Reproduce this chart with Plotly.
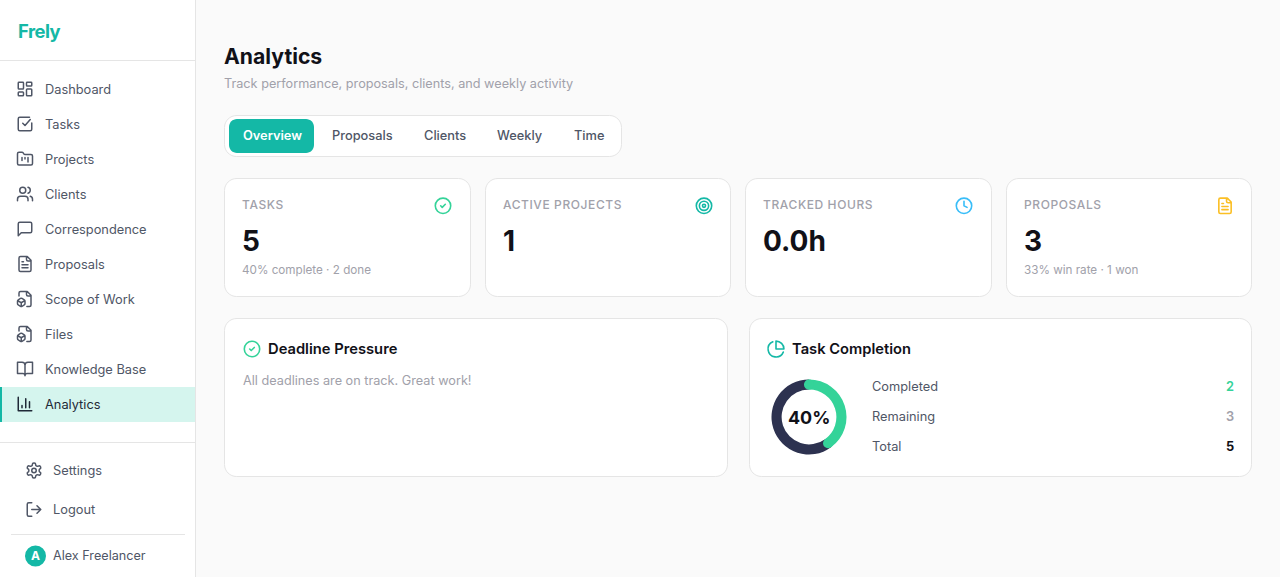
import math
import re
import json
import plotly.graph_objects as go

W, H = 1280, 577

# ---------- data ----------
brand = "Frely"
page_title = "Analytics"
page_subtitle = "Track performance, proposals, clients, and weekly activity"
nav_labels = ["Dashboard", "Tasks", "Projects", "Clients", "Correspondence",
              "Proposals", "Scope of Work", "Files", "Knowledge Base", "Analytics"]
footer_labels = ["Settings", "Logout"]
user_name = "Alex Freelancer"
user_initial = "A"
tab_labels = ["Overview", "Proposals", "Clients", "Weekly", "Time"]
stat_labels = ["TASKS", "ACTIVE PROJECTS", "TRACKED HOURS", "PROPOSALS"]
stat_values = ["5", "1", "0.0h", "3"]
stat_notes = ["40% complete · 2 done", "", "", "33% win rate · 1 won"]
deadline_title = "Deadline Pressure"
deadline_note = "All deadlines are on track. Great work!"
completion_title = "Task Completion"
completion_labels = ["Completed", "Remaining", "Total"]
completed_tasks = 2
remaining_tasks = 3
total_tasks = 5
completion_pct = "40%"

# ---------- palette ----------
TEAL = "#14b8a6"
GREEN = "#34d399"
NAVY = "#2d3250"
SKY = "#38bdf8"
AMBER = "#fbbf24"
INK = "#111118"
BODY = "#4f5666"
MUTED = "#a1a1aa"
BORDER = "#e5e5e5"
PAGE = "#fafafa"
ACTIVE = "#d5f5ee"
FONT = "Inter"


def px(x):
    return round(x / W, 6)


def py(y):
    return round(1 - y / H, 6)


# ---------- small svg path flattener (shape paths have no arcs) ----------
NUM = r"[-+]?(?:\d*\.\d+|\d+\.?)(?:[eE][-+]?\d+)?"


def arc_to_cubics(x0, y0, rx, ry, large, sweep, x1, y1):
    if rx == 0 or ry == 0 or (x0 == x1 and y0 == y1):
        return [(x0, y0, x1, y1, x1, y1)]
    dx, dy = (x0 - x1) / 2, (y0 - y1) / 2
    lam = dx * dx / (rx * rx) + dy * dy / (ry * ry)
    if lam > 1:
        rx *= math.sqrt(lam)
        ry *= math.sqrt(lam)
    num = max(0, rx * rx * ry * ry - rx * rx * dy * dy - ry * ry * dx * dx)
    den = rx * rx * dy * dy + ry * ry * dx * dx
    k = math.sqrt(num / den) * (-1 if large == sweep else 1)
    cxp, cyp = k * rx * dy / ry, -k * ry * dx / rx
    cx, cy = cxp + (x0 + x1) / 2, cyp + (y0 + y1) / 2
    a0 = math.atan2((dy - cyp) / ry, (dx - cxp) / rx)
    a1 = math.atan2((-dy - cyp) / ry, (-dx - cxp) / rx)
    d = a1 - a0
    if sweep and d < 0:
        d += 2 * math.pi
    if not sweep and d > 0:
        d -= 2 * math.pi
    n = max(1, math.ceil(abs(d) / (math.pi / 2) - 1e-9))
    out = []
    step = d / n
    t = 4 / 3 * math.tan(step / 4)
    for i in range(n):
        a = a0 + i * step
        b = a + step
        out.append((
            cx + rx * (math.cos(a) - t * math.sin(a)), cy + ry * (math.sin(a) + t * math.cos(a)),
            cx + rx * (math.cos(b) + t * math.sin(b)), cy + ry * (math.sin(b) - t * math.cos(b)),
            cx + rx * math.cos(b), cy + ry * math.sin(b)))
    return out


def flatten(d):
    tokens = re.findall(r"[MmLlHhVvCcAaZz]|" + NUM, d)
    i, x, y, sx, sy, cmd = 0, 0.0, 0.0, 0.0, 0.0, None
    out = []

    def nxt():
        nonlocal i
        v = float(tokens[i])
        i += 1
        return v

    while i < len(tokens):
        if re.fullmatch(r"[A-Za-z]", tokens[i]):
            cmd = tokens[i]
            i += 1
        c, rel = cmd.upper(), cmd.islower()
        ox, oy = (x, y) if rel else (0, 0)
        if c == "M":
            x, y = ox + nxt(), oy + nxt()
            sx, sy = x, y
            out.append(("M", x, y))
            cmd = "l" if rel else "L"
        elif c == "L":
            x, y = ox + nxt(), oy + nxt()
            out.append(("L", x, y))
        elif c == "H":
            x = ox + nxt()
            out.append(("L", x, y))
        elif c == "V":
            y = oy + nxt()
            out.append(("L", x, y))
        elif c == "C":
            v = [nxt() for _ in range(6)]
            out.append(("C", ox + v[0], oy + v[1], ox + v[2], oy + v[3], ox + v[4], oy + v[5]))
            x, y = ox + v[4], oy + v[5]
        elif c == "A":
            rx, ry, _, la, sw = nxt(), nxt(), nxt(), nxt(), nxt()
            ex, ey = ox + nxt(), oy + nxt()
            for seg in arc_to_cubics(x, y, rx, ry, bool(la), bool(sw), ex, ey):
                out.append(("C", *seg))
            x, y = ex, ey
        elif c == "Z":
            out.append(("Z",))
            x, y = sx, sy
    return out


def to_paper(segs, ox, oy, s):
    parts = []
    for seg in segs:
        if seg[0] == "Z":
            parts.append("Z")
            continue
        nums = seg[1:]
        pts = [f"{px(ox + nums[k] * s)},{py(oy + nums[k + 1] * s)}" for k in range(0, len(nums), 2)]
        parts.append(seg[0] + " ".join(pts))
    return " ".join(parts)


def circle_d(cx, cy, r):
    return f"M{cx - r} {cy}A{r} {r} 0 1 1 {cx + r} {cy}A{r} {r} 0 1 1 {cx - r} {cy}Z"


def rrect_d(x, y, w, h, r):
    return (f"M{x + r} {y}H{x + w - r}A{r} {r} 0 0 1 {x + w} {y + r}V{y + h - r}"
            f"A{r} {r} 0 0 1 {x + w - r} {y + h}H{x + r}A{r} {r} 0 0 1 {x} {y + h - r}"
            f"V{y + r}A{r} {r} 0 0 1 {x + r} {y}Z")


FILE_BOX = ("M14.5 22H18a2 2 0 0 0 2-2V7l-5-5H6a2 2 0 0 0-2 2v4 M14 2v4a2 2 0 0 0 2 2h4 "
            "M3 13.1a2 2 0 0 0-1 1.76v3.24a2 2 0 0 0 .97 1.78L6 21.7a2 2 0 0 0 2.03.01L11 19.9a2 2 0 0 0 1-1.76V14.9"
            "a2 2 0 0 0-.97-1.78L8 11.3a2 2 0 0 0-2.03-.01Z M7 17v5 M11.7 14.2 7 17l-4.7-2.8")
FILE_TEXT = ("M15 2H6a2 2 0 0 0-2 2v16a2 2 0 0 0 2 2h12a2 2 0 0 0 2-2V7Z M14 2v4a2 2 0 0 0 2 2h4 "
             "M10 9H8 M16 13H8 M16 17H8")
ICONS = {
    "Dashboard": rrect_d(3, 3, 7, 9, 1) + rrect_d(14, 3, 7, 5, 1) + rrect_d(14, 12, 7, 9, 1) + rrect_d(3, 16, 7, 5, 1),
    "Tasks": "M21 10.5V19a2 2 0 0 1-2 2H5a2 2 0 0 1-2-2V5a2 2 0 0 1 2-2h13 M9 11l3 3 7-8",
    "Projects": ("M4 20h16a2 2 0 0 0 2-2V8a2 2 0 0 0-2-2h-7.93a2 2 0 0 1-1.66-.9l-.82-1.2A2 2 0 0 0 7.93 3H4"
                 "a2 2 0 0 0-2 2v13c0 1.1.9 2 2 2Z M8 10v4 M12 10v2 M16 10v6"),
    "Clients": ("M16 21v-2a4 4 0 0 0-4-4H6a4 4 0 0 0-4 4v2 " + circle_d(9, 7, 4) +
                " M22 21v-2a4 4 0 0 0-3-3.87 M16 3.13a4 4 0 0 1 0 7.75"),
    "Correspondence": "M21 15a2 2 0 0 1-2 2H7l-4 4V5a2 2 0 0 1 2-2h14a2 2 0 0 1 2 2z",
    "Proposals": FILE_TEXT,
    "Scope of Work": FILE_BOX,
    "Files": FILE_BOX,
    "Knowledge Base": "M2 3h6a4 4 0 0 1 4 4v14a3 3 0 0 0-3-3H2z M22 3h-6a4 4 0 0 0-4 4v14a3 3 0 0 1 3-3h7z",
    "Analytics": "M3 3v18h18 M18 17V9 M13 17V5 M8 17v-3",
    "Settings": ("M12.22 2h-.44a2 2 0 0 0-2 2v.18a2 2 0 0 1-1 1.73l-.43.25a2 2 0 0 1-2 0l-.15-.08a2 2 0 0 0-2.73.73"
                 "l-.22.38a2 2 0 0 0 .73 2.73l.15.1a2 2 0 0 1 1 1.72v.51a2 2 0 0 1-1 1.74l-.15.09a2 2 0 0 0-.73 2.73"
                 "l.22.38a2 2 0 0 0 2.73.73l.15-.08a2 2 0 0 1 2 0l.43.25a2 2 0 0 1 1 1.73V20a2 2 0 0 0 2 2h.44"
                 "a2 2 0 0 0 2-2v-.18a2 2 0 0 1 1-1.73l.43-.25a2 2 0 0 1 2 0l.15.08a2 2 0 0 0 2.73-.73l.22-.39"
                 "a2 2 0 0 0-.73-2.73l-.15-.08a2 2 0 0 1-1-1.74v-.5a2 2 0 0 1 1-1.74l.15-.09a2 2 0 0 0 .73-2.73"
                 "l-.22-.38a2 2 0 0 0-2.73-.73l-.15.08a2 2 0 0 1-2 0l-.43-.25a2 2 0 0 1-1-1.73V4a2 2 0 0 0-2-2z " +
                 circle_d(12, 12, 3)),
    "Logout": "M9 21H5a2 2 0 0 1-2-2V5a2 2 0 0 1 2-2h4 M16 17l5-5-5-5 M21 12H9",
    "check": circle_d(12, 12, 10) + " M9 12l2 2 4-4",
    "target": circle_d(12, 12, 10) + circle_d(12, 12, 6) + circle_d(12, 12, 2),
    "clock": circle_d(12, 12, 10) + " M12 6v6l4 2",
    "file": FILE_TEXT,
    "pie": "M21.21 15.89A10 10 0 1 1 8 2.83 M22 12A10 10 0 0 0 12 2v10z",
}

shapes = []
annotations = []


def rect(x0, y0, x1, y1, fill, line=None, r=0, lw=1):
    d = to_paper(flatten(rrect_d(x0, y0, x1 - x0, y1 - y0, r) if r else
                         f"M{x0} {y0}H{x1}V{y1}H{x0}Z"), 0, 0, 1)
    shapes.append(dict(type="path", xref="paper", yref="paper", path=d, fillcolor=fill, layer="below",
                       line=dict(color=line or "rgba(0,0,0,0)", width=lw if line else 0)))


def icon(name, cx, cy, size, color, lw=1.5):
    d = to_paper(flatten(ICONS[name]), cx - size / 2, cy - size / 2, size / 24)
    shapes.append(dict(type="path", xref="paper", yref="paper", path=d,
                       fillcolor="rgba(0,0,0,0)", line=dict(color=color, width=lw)))


def label(text, x, y, size, color, weight=400, anchor="left"):
    annotations.append(dict(text=text, x=px(x), y=py(y), xref="paper", yref="paper",
                            xanchor=anchor, yanchor="middle", showarrow=False,
                            borderpad=0, borderwidth=0, align=anchor,
                            font=dict(family=FONT, size=size, color=color, weight=weight)))


# ---------- sidebar ----------
rect(0, 0, 195.5, H, "#ffffff")
rect(195, 0, 196, H, BORDER)
rect(0, 60, 195, 61, BORDER)
rect(0, 442, 195, 443, BORDER)
rect(11, 534, 185, 535, BORDER)
label(brand, 17.5, 31, 18.4, TEAL, 700)

for i, name in enumerate(nav_labels):
    y = 89.2 + i * 35
    active = name == page_title
    if active:
        rect(0, 387, 195, 422, ACTIVE)
        rect(0, 387, 2, 422, TEAL)
    icon(name, 25, y - 0.2, 18, "#1f2937" if active else BODY)
    label(name, 44.6, y, 12.8, "#1f2937" if active else BODY, 400)

for i, name in enumerate(footer_labels):
    y = 470.2 + i * 39
    icon(name, 34, y + 0.3, 18, BODY)
    label(name, 53, y, 12.8, BODY, 400)

shapes.append(dict(type="circle", xref="paper", yref="paper", x0=px(25), x1=px(46),
                   y0=py(566.5), y1=py(545.5), fillcolor=TEAL, line=dict(width=0)))
label(user_initial, 35.5, 555.5, 12, "#ffffff", 700, "center")
label(user_name, 53, 555.5, 12.64, BODY, 400)

# ---------- header ----------
label(page_title, 224, 56, 21.2, INK, 700)
label(page_subtitle, 224, 83.5, 12.7, MUTED, 400)

# ---------- tabs ----------
rect(224.5, 115.5, 621.5, 156.5, "#ffffff", BORDER, 12)
rect(229, 119, 314, 153, TEAL, None, 8)
tab_centers = [272, 362, 444.5, 520, 589]
for i, name in enumerate(tab_labels):
    label(name, tab_centers[i], 135.5, 12.8, "#ffffff" if i == 0 else BODY, 500 if i else 600, "center")

# ---------- stat cards ----------
card_edges = [(224.5, 470.5), (485.5, 730.5), (745.5, 991.5), (1006.5, 1251.5)]
card_text_x = [242.5, 503, 763.5, 1024]
card_icon_x = [443, 704, 964, 1225]
card_icons = [("check", GREEN), ("target", TEAL), ("clock", SKY), ("file", AMBER)]
for i, (x0, x1) in enumerate(card_edges):
    rect(x0, 178.5, x1, 296.5, "#ffffff", BORDER, 12)
    label(stat_labels[i], card_text_x[i], 204.5, 12, MUTED, 500)
    label(stat_values[i], card_text_x[i], 241, 28, INK, 700)
    if stat_notes[i]:
        label(stat_notes[i], card_text_x[i], 270, 11.68, MUTED, 400)
    icon(card_icons[i][0], card_icon_x[i], 205.8, 18.5, card_icons[i][1], 1.6)

# ---------- bottom cards ----------
rect(224.5, 318.5, 727.5, 476.5, "#ffffff", BORDER, 12)
rect(749.5, 318.5, 1251.5, 476.5, "#ffffff", BORDER, 12)
icon("check", 252, 349, 18.5, GREEN, 1.6)
label(deadline_title, 267.7, 348.6, 14.72, INK, 600)
label(deadline_note, 243, 380.5, 12.7, MUTED, 400)

icon("pie", 776, 349, 19, TEAL, 1.6)
label(completion_title, 792, 348.6, 14.72, INK, 600)

row_values = [completed_tasks, remaining_tasks, total_tasks]
row_colors = [GREEN, MUTED, INK]
row_weights = [600, 600, 700]
for i, name in enumerate(completion_labels):
    y = 386.7 + i * 30
    label(name, 872, y, 12.8, BODY, 400)
    label(str(row_values[i]), 1234, y, 12.8, row_colors[i], row_weights[i], "right")

# ---------- donut ----------
DCX, DCY, ROUT, HOLE = 809, 417, 37.5, 0.73
fig = go.Figure(go.Pie(
    labels=completion_labels[:2],
    values=[completed_tasks, remaining_tasks],
    hole=HOLE, sort=False, direction="clockwise", rotation=0,
    textinfo="none", hoverinfo="skip", showlegend=False,
    marker=dict(colors=[GREEN, NAVY], line=dict(width=0)),
    domain=dict(x=[px(DCX - ROUT), px(DCX + ROUT)], y=[py(DCY + ROUT), py(DCY - ROUT)]),
))
# round caps on the completed arc, placed from the share of completed tasks
rmid = ROUT * (1 + HOLE) / 2
rcap = ROUT * (1 - HOLE) / 2
for frac in (0, completed_tasks / (completed_tasks + remaining_tasks)):
    a = 2 * math.pi * frac
    cx, cy = DCX + rmid * math.sin(a), DCY - rmid * math.cos(a)
    shapes.append(dict(type="circle", xref="paper", yref="paper",
                       x0=px(cx - rcap), x1=px(cx + rcap), y0=py(cy + rcap), y1=py(cy - rcap),
                       fillcolor=GREEN, line=dict(width=0)))
label(completion_pct, DCX, DCY, 17.92, INK, 700, "center")

fig.update_layout(
    width=W, height=H, autosize=False,
    margin=dict(l=0, r=0, t=0, b=0, pad=0),
    paper_bgcolor=PAGE, plot_bgcolor=PAGE,
    shapes=shapes, annotations=annotations,
    font=dict(family=FONT),
)

post = """
document.documentElement.style.margin='0';
document.body.style.margin='0';
document.body.style.overflow='hidden';
var spaced = %s;
var brand = %s;
document.querySelectorAll('.annotation-text').forEach(function(t){
  if (spaced.indexOf(t.textContent) >= 0) { t.style.letterSpacing = '0.6px'; }
  if (t.textContent === brand) { t.style.letterSpacing = '-0.5px'; }
});
document.querySelectorAll('.shapelayer path').forEach(function(p){
  p.style.strokeLinecap='round'; p.style.strokeLinejoin='round';
});
""" % (json.dumps(stat_labels), json.dumps(brand))

fig.write_html("out.html", config=dict(displayModeBar=False, responsive=False), post_script=post)
